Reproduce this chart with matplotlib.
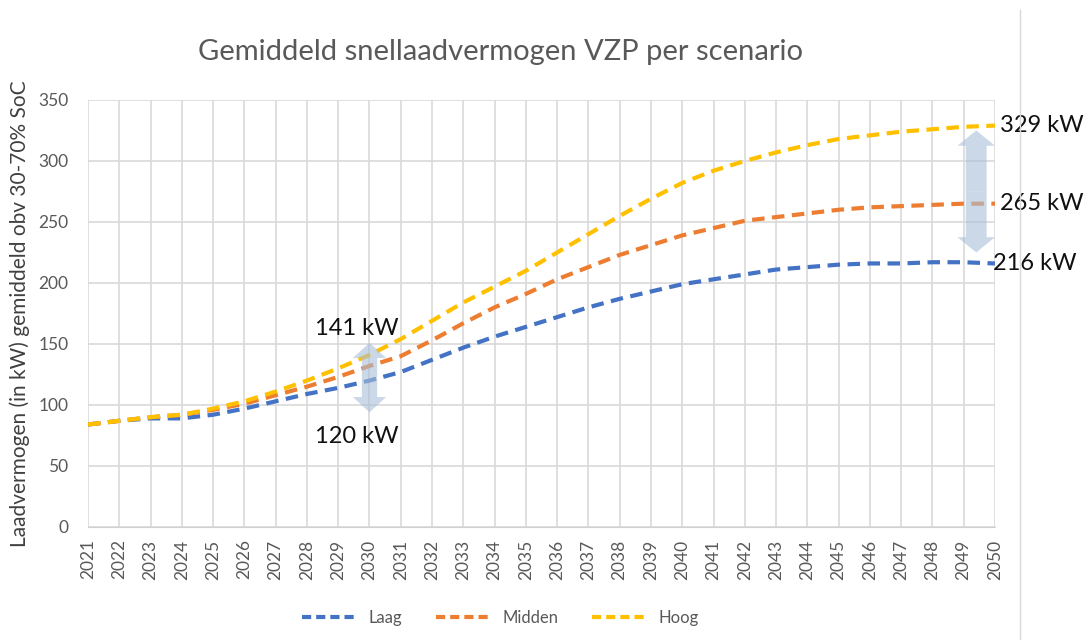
import matplotlib.pyplot as plt
from matplotlib.lines import Line2D
from matplotlib.patches import FancyArrowPatch

years = list(range(2021, 2051))
laag = [84, 87, 89, 89, 92, 97, 103, 109, 114, 120,
        127, 137, 147, 156, 164, 172, 180, 187, 193, 199,
        203, 207, 211, 213, 215, 216, 216, 217, 217, 216]
midden = [84, 87, 90, 92, 96, 101, 108, 115, 123, 132,
          140, 153, 167, 180, 191, 203, 213, 223, 231, 239,
          245, 251, 254, 257, 260, 262, 263, 264, 265, 265]
hoog = [84, 87, 90, 92, 97, 103, 111, 120, 130, 141,
        154, 169, 184, 197, 210, 225, 240, 255, 269, 282,
        292, 300, 307, 313, 318, 321, 324, 326, 328, 329]

series = [("Laag", laag, "#4472C4"), ("Midden", midden, "#ED7D31"), ("Hoog", hoog, "#FFC000")]

plt.rcParams['font.family'] = ['Lato', 'DejaVu Sans']

fig = plt.figure(figsize=(10.88, 6.4), dpi=100)
ax = fig.add_axes([0.0809, 0.1766, 0.8336, 0.6672])

for name, vals, col in series:
    ax.plot(years, vals, color=col, lw=3.0, ls=(0, (3, 1.8)), dash_capstyle='butt', label=name, zorder=3)

ax.set_xlim(2021, 2050)
ax.set_ylim(0, 350)
ax.set_yticks(range(0, 351, 50))
ax.set_xticks(years)
ax.set_xticklabels([str(y) for y in years], rotation=90)
ax.tick_params(axis='y', length=0, labelsize=12.5, colors='#595959', pad=14)
ax.tick_params(axis='x', length=0, labelsize=12.5, colors='#595959', pad=9)
ax.grid(True, color='#d9d9d9', lw=1.2)
ax.set_axisbelow(True)
for s in ax.spines.values():
    s.set_visible(False)
ax.spines['bottom'].set_visible(True)
ax.spines['bottom'].set_color('#d0d0d0')

ax.set_ylabel("Laadvermogen (in kW) gemiddeld obv 30-70% SoC", fontsize=15, color='#404040', labelpad=6)
fig.text(0.46, 0.918, "Gemiddeld snellaadvermogen VZP per scenario", ha='center', va='center',
         fontsize=21, color='#595959')

# fat double arrows showing the spread between scenarios
arrow_col = '#a9bfd8'
for yr, lo, hi, tw, hw in [(2030, 94, 151, 11, 24), (2049.4, 225, 325, 15, 27)]:
    mid = (lo + hi) / 2
    for end in (lo, hi):
        ax.add_patch(FancyArrowPatch((yr, mid), (yr, end),
                                     arrowstyle=f"simple,head_width={hw},head_length=11,tail_width={tw}",
                                     mutation_scale=1, color=arrow_col, alpha=0.6, lw=0,
                                     shrinkA=0, shrinkB=0, zorder=4))

lab = dict(fontsize=17, color='#111111', clip_on=False)
ax.text(2029.6, 163, f"{hoog[9]} kW", ha='center', va='center', **lab)
ax.text(2029.6, 74, f"{laag[9]} kW", ha='center', va='center', **lab)
ax.text(2050.15, hoog[-1], f"{hoog[-1]} kW", ha='left', va='center', **lab)
ax.text(2050.15, midden[-1], f"{midden[-1]} kW", ha='left', va='center', **lab)
ax.text(2049.95, laag[-1], f"{laag[-1]} kW", ha='left', va='center', **lab)

handles = [Line2D([0], [0], color=c, lw=3.0, ls=(0, (2.2, 1.2)), dash_capstyle='butt') for _, _, c in series]
fig.legend(handles, [n for n, _, _ in series], loc='center', bbox_to_anchor=(0.46, 0.035), ncol=3,
           frameon=False, fontsize=12, labelcolor='#595959', handlelength=3.2, columnspacing=2.0)

fig.add_artist(Line2D([1020 / 1088, 1020 / 1088], [0, 0.985], color='#d9d9d9', lw=1))

fig.savefig("out.png", dpi=100)
